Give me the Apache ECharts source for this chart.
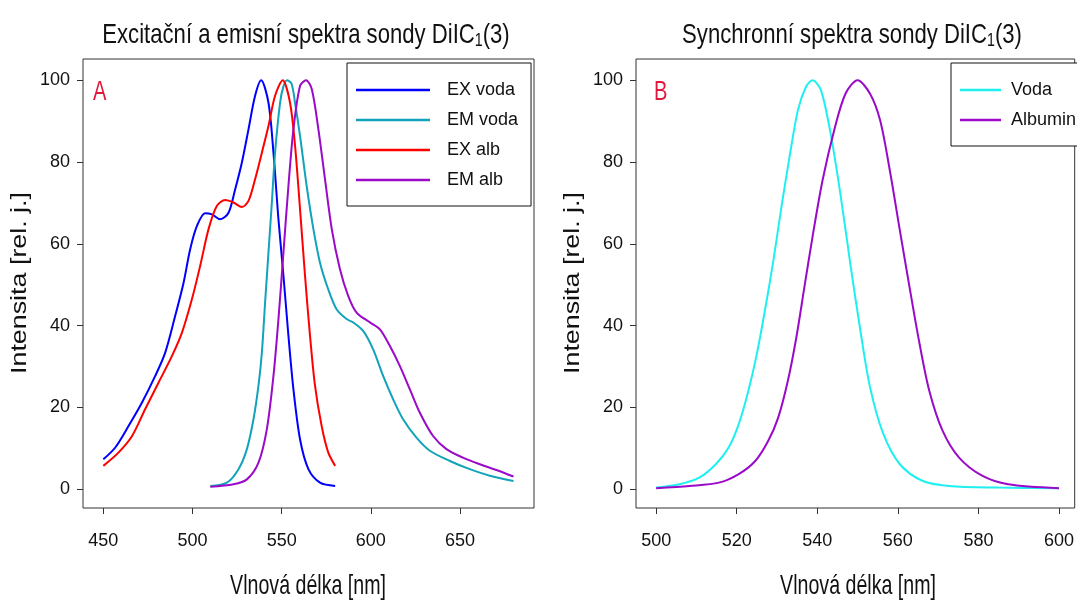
<!DOCTYPE html>
<html>
<head>
<meta charset="utf-8">
<script src="https://cdn.jsdelivr.net/npm/echarts@6/dist/echarts.min.js"></script>
<style>html,body{margin:0;padding:0;background:#fff}#c{width:1077px;height:601px}</style>
</head>
<body>
<div id="c"></div>
<script>
// ---- Data ----
const exVodaX = [450, 456.7, 464.2, 471.7, 479.1, 484.7, 490.3, 495, 498.7, 502.5, 507.1, 510.9, 515.5, 520.2, 523.9, 527.7, 531.4, 535.1, 538.5, 542.6, 545.4, 548.2, 551, 553.8, 556.6, 560.3, 565, 571.5, 580];
const exVodaY = [7.3, 10.2, 15.5, 21.2, 27.7, 33.4, 42.4, 50.5, 58.7, 64.4, 67.5, 67.2, 66, 67.6, 73.3, 79.9, 88, 96.2, 100, 94.5, 82.3, 66, 52.2, 37.5, 24.4, 12.2, 4.9, 1.6, 0.8];

const emVodaX = [510, 519.3, 525.8, 530.5, 534.2, 537, 538.9, 540.7, 542.6, 544.5, 546.3, 549.1, 551, 553, 555.5, 557.5, 560.3, 564, 567.8, 571.5, 576.1, 580.8, 586.4, 590.1, 595.7, 601.3, 606.9, 612.5, 618.1, 625.6, 633.1, 644.3, 655.5, 666.7, 680];
const emVodaY = [0.8, 1.6, 4.9, 9.8, 17.1, 25.3, 33.4, 45.6, 57.9, 70.1, 82.3, 94.5, 98.5, 100, 99.2, 94.5, 86.4, 74.2, 63.6, 55.4, 48.9, 44, 41.6, 40.8, 38.7, 34.2, 27.7, 22, 17.1, 12.6, 9.4, 6.9, 4.9, 3.3, 2];

const exAlbX = [450, 458.6, 466.1, 473.5, 481, 488.5, 494.1, 499.7, 504.3, 509, 513.7, 518.3, 523, 527.7, 531.4, 535.1, 538.9, 542.6, 546.3, 550.6, 554.7, 557.5, 560.3, 563.1, 565.9, 568.7, 572.4, 576.1, 580];
const exAlbY = [5.7, 9, 13, 19.6, 26.1, 32.6, 38.3, 46.5, 54.6, 63.6, 69.3, 70.7, 70.1, 69, 70.5, 75.8, 82.3, 88.8, 96.2, 100, 94.5, 84, 68.5, 52.2, 37.5, 25.3, 15.5, 9, 5.7];

const emAlbX = [510, 523, 530.5, 537, 541.7, 545.4, 548.2, 551, 553.8, 556.6, 560.3, 563.7, 566.9, 570.6, 574.3, 578.1, 582.7, 587.3, 592, 599.5, 605.1, 610.7, 616.3, 621.9, 627.5, 634.9, 642.4, 651.7, 661.1, 670.4, 680];
const emAlbY = [0.6, 1.2, 2.4, 6.5, 14.7, 27.7, 41.6, 57.9, 74.2, 88, 98.6, 100, 97.8, 88, 75.8, 63.6, 53.8, 47.3, 43.2, 40.8, 39.1, 35, 30.1, 24.4, 18.7, 13, 9.8, 7.7, 6.1, 4.7, 3.1];

const synVodaX = [500, 505.8, 510.7, 514.8, 518, 520.5, 522.9, 525, 527, 529.1, 531.1, 533.1, 535.2, 537.2, 538.8, 540.9, 543.3, 545.8, 548.2, 550.7, 553.1, 556.4, 560.5, 566.2, 572.7, 584.9, 600];
const synVodaY = [0.4, 1.2, 2.8, 6.1, 10.2, 15.9, 24.1, 33.1, 43.7, 55.9, 69, 81.2, 92.7, 98.4, 100, 97.6, 87, 71.8, 55.1, 38.8, 24.9, 13.5, 6.1, 2, 0.8, 0.4, 0.25];

const synAlbX = [500, 508.3, 515.6, 520.5, 524.6, 527.8, 530.3, 532.7, 534.8, 536.8, 538.8, 541.3, 544.2, 547, 550, 553.1, 555.6, 558, 560.5, 562.9, 565.4, 567.8, 571.1, 575.2, 580.9, 587.4, 600];
const synAlbY = [0.25, 0.8, 1.6, 3.7, 6.9, 11.8, 17.5, 26.5, 37.1, 49.4, 61.6, 75.5, 87.8, 96.7, 100, 96.7, 90.2, 78, 63.3, 49.4, 35.5, 24.1, 14.3, 7.7, 3.3, 1.2, 0.25];

const seriesNamesA = ['EX voda', 'EM voda', 'EX alb', 'EM alb'];
const seriesNamesB = ['Voda', 'Albumin'];
const xTicksA = [450, 500, 550, 600, 650];
const xTicksB = [500, 520, 540, 560, 580, 600];
const yTicks = [0, 20, 40, 60, 80, 100];
const titleA = 'Excitační a emisní spektra sondy DiIC';
const titleB = 'Synchronní spektra sondy DiIC';
const xTitle = 'Vlnová délka [nm]';
const yTitle = 'Intensita [rel. j.]';

// ---- Styling ----
const FONT = "'Liberation Sans', Arial, sans-serif";
const colors = {exVoda: '#0000ff', emVoda: '#12a3ba', exAlb: '#ff0000', emAlb: '#9a0ac8', synVoda: '#1ef0f0', synAlb: '#9a0ac8'};

function zip(xs, ys) { return xs.map((x, i) => [x, ys[i]]); }

function mkSeries(name, xs, ys, color, gi) {
  return {
    name: name, type: 'line', xAxisIndex: gi, yAxisIndex: gi,
    data: zip(xs, ys), smooth: 0.3, showSymbol: false, symbol: 'none',
    lineStyle: {color: color, width: 2}, itemStyle: {color: color},
    emphasis: {disabled: true}, animation: false
  };
}

function xAxis(gi, min, max, ticks) {
  return {
    type: 'value', gridIndex: gi, min: min, max: max,
    axisLine: {show: false, onZero: false},
    splitLine: {show: false},
    axisTick: {show: true, customValues: ticks, length: 6, lineStyle: {color: '#333'}},
    axisLabel: {customValues: ticks, margin: 24, color: '#111', fontFamily: FONT, fontSize: 18}
  };
}
function yAxis(gi) {
  return {
    type: 'value', gridIndex: gi, min: -4.6, max: 105.2,
    axisLine: {show: false, onZero: false},
    splitLine: {show: false},
    axisTick: {show: true, customValues: yTicks, length: 6, lineStyle: {color: '#333'}},
    axisLabel: {customValues: yTicks, margin: 13, color: '#111', fontFamily: FONT, fontSize: 18}
  };
}

function titleText(cx, txt) {
  return {type: 'text', x: cx, y: 35, scaleX: 0.79, silent: true,
    style: {text: '{t|' + txt + '}{s|1}{t|(3)}', align: 'center', verticalAlign: 'middle',
      rich: {t: {fontFamily: FONT, fontSize: 28, lineHeight: 30, fill: '#111'},
             s: {fontFamily: FONT, fontSize: 18, lineHeight: 18, verticalAlign: 'bottom', padding: [4, 0, 0, 0], fill: '#111'}}}};
}
function xTitleText(cx) {
  return {type: 'text', x: cx, y: 586, scaleX: 0.7, silent: true,
    style: {text: xTitle, align: 'center', verticalAlign: 'middle', fontFamily: FONT, fontSize: 28, fill: '#111'}};
}
function yTitleText(cx) {
  return {type: 'text', x: cx, y: 283, rotation: Math.PI / 2, scaleX: 1.22, silent: true,
    style: {text: yTitle, align: 'center', verticalAlign: 'middle', fontFamily: FONT, fontSize: 22, fill: '#111'}};
}
function panelLetter(x, txt) {
  return {type: 'text', x: x, y: 92, scaleX: 0.72, silent: true,
    style: {text: txt, align: 'left', verticalAlign: 'middle', fontFamily: FONT, fontSize: 28, fill: '#e0193c'}};
}

const chart = echarts.init(document.getElementById('c'), null, {renderer: 'canvas'});
chart.setOption({
  backgroundColor: '#fff',
  animation: false,
  grid: [
    {left: 83, top: 59, width: 451, height: 449, show: true, borderColor: '#333', borderWidth: 1, backgroundColor: 'transparent'},
    {left: 636, top: 59, width: 445, height: 449, show: true, borderColor: '#333', borderWidth: 1, backgroundColor: 'transparent'}
  ],
  xAxis: [xAxis(0, 438.6, 691.5, xTicksA), xAxis(1, 495, 603.9, xTicksB)],
  yAxis: [yAxis(0), yAxis(1)],
  legend: [
    {data: seriesNamesA, orient: 'vertical', left: 347, top: 63, icon: 'rect', itemWidth: 74, itemHeight: 2.5, itemGap: 6,
     selectedMode: false, padding: [15, 13, 14, 9], borderColor: '#111', borderWidth: 1, backgroundColor: '#fff',
     textStyle: {fontFamily: FONT, fontSize: 18, lineHeight: 24, color: '#111', padding: [0, 0, 0, 12]}},
    {data: seriesNamesB, orient: 'vertical', left: 951, top: 63, icon: 'rect', itemWidth: 41, itemHeight: 2.5, itemGap: 6,
     selectedMode: false, padding: [15, 15, 14, 9], borderColor: '#111', borderWidth: 1, backgroundColor: '#fff',
     textStyle: {fontFamily: FONT, fontSize: 18, lineHeight: 24, color: '#111', padding: [0, 0, 0, 5]}}
  ],
  graphic: [
    titleText(306, titleA),
    titleText(852, titleB),
    xTitleText(308),
    xTitleText(858),
    yTitleText(20),
    yTitleText(573),
    panelLetter(93, 'A'),
    panelLetter(654, 'B')
  ],
  series: [
    mkSeries(seriesNamesA[0], exVodaX, exVodaY, colors.exVoda, 0),
    mkSeries(seriesNamesA[1], emVodaX, emVodaY, colors.emVoda, 0),
    mkSeries(seriesNamesA[2], exAlbX, exAlbY, colors.exAlb, 0),
    mkSeries(seriesNamesA[3], emAlbX, emAlbY, colors.emAlb, 0),
    mkSeries(seriesNamesB[0], synVodaX, synVodaY, colors.synVoda, 1),
    mkSeries(seriesNamesB[1], synAlbX, synAlbY, colors.synAlb, 1)
  ]
});
</script>
</body>
</html>
